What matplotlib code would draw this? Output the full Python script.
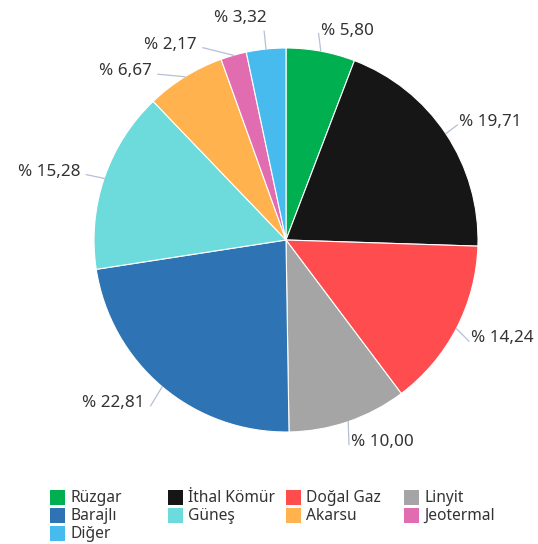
import numpy as np
import matplotlib
matplotlib.use("Agg")
import matplotlib.pyplot as plt
from matplotlib.patches import Rectangle

plt.rcParams['font.family'] = ['Noto Sans', 'DejaVu Sans']

# kaynak bazında pay (%)
names = ["Rüzgar", "İthal Kömür", "Doğal Gaz", "Linyit", "Barajlı",
         "Güneş", "Akarsu", "Jeotermal", "Diğer"]
shares = [5.80, 19.71, 14.24, 10.00, 22.81, 15.28, 6.67, 2.17, 3.32]
colors = ["#00b050", "#161616", "#ff4d4f", "#a5a5a5", "#2e74b5",
          "#6ddbdb", "#ffb24d", "#e26cb0", "#47bbee"]
labels = ["% " + f"{v:.2f}".replace(".", ",") for v in shares]

W, H = 538, 544
fig = plt.figure(figsize=(W / 100, H / 100), dpi=100)
ax = fig.add_axes([0, 0, 1, 1])

# pie in pixel coordinates (y up)
cx, cy, r = 286, H - 240, 192
wedges, _ = ax.pie(shares, colors=colors, startangle=90, counterclock=False,
                   center=(cx, cy), radius=r, frame=True,
                   wedgeprops=dict(linewidth=0.8, edgecolor="white"))
ax.set_xlim(0, W)
ax.set_ylim(0, H)
ax.set_aspect("equal")
ax.axis("off")

# label placement: anchor on outer circle, then push apart vertically per side
R = 213
items = []
for w, lab in zip(wedges, labels):
    ang = np.deg2rad((w.theta1 + w.theta2) / 2)
    c, s = np.cos(ang), np.sin(ang)
    top = abs(c) < 0.15
    ty = cy + (r + 31) * s if top else cy + R * s
    items.append(dict(lab=lab, c=c, s=s, ty=ty, top=top))

for side in (1, -1):
    grp = sorted([it for it in items if np.sign(it["c"]) == side],
                 key=lambda it: -it["ty"])
    prev = None
    for it in grp:
        if prev is not None and prev - it["ty"] < 26.5:
            it["ty"] = prev - 26.5
        prev = it["ty"]

for it in items:
    c, s = it["c"], it["s"]
    x0, y0 = cx + r * c, cy + r * s
    ty = it["ty"]
    if it["top"]:
        # label sitting above the connector end
        x1, y1 = cx + (r + 18) * c, cy + (r + 18) * s
        ax.plot([x0, x1], [y0, y1], color="#b4c0d6", lw=0.9)
        ax.text(x1 + 2, ty, it["lab"], ha="right", va="center",
                fontsize=12.3, color="#333333")
        continue
    dx = np.sqrt(max(R ** 2 - (ty - cy) ** 2, 0))
    if c > 0:
        tx = cx + dx - 4
        ax.plot([x0, tx - 2], [y0, ty - 3], color="#b4c0d6", lw=0.9)
        ax.text(tx, ty, it["lab"], ha="left", va="center",
                fontsize=12.3, color="#333333")
    else:
        tx = cx - dx - 4
        ax.plot([x0, tx + 6], [y0, ty - 3], color="#b4c0d6", lw=0.9)
        ax.text(tx, ty, it["lab"], ha="right", va="center",
                fontsize=12.3, color="#333333")

# legend
for i, (nm, col) in enumerate(zip(names, colors)):
    row, cl = divmod(i, 4)
    lx = 50 + cl * 118
    ly = H - (497.5 + row * 18)
    ax.add_patch(Rectangle((lx, ly - 7.5), 15, 15, facecolor=col, edgecolor="none"))
    ax.text(lx + 20, ly, nm, ha="left", va="center", fontsize=11.2, color="#333333")

fig.savefig("out.png", dpi=100)
